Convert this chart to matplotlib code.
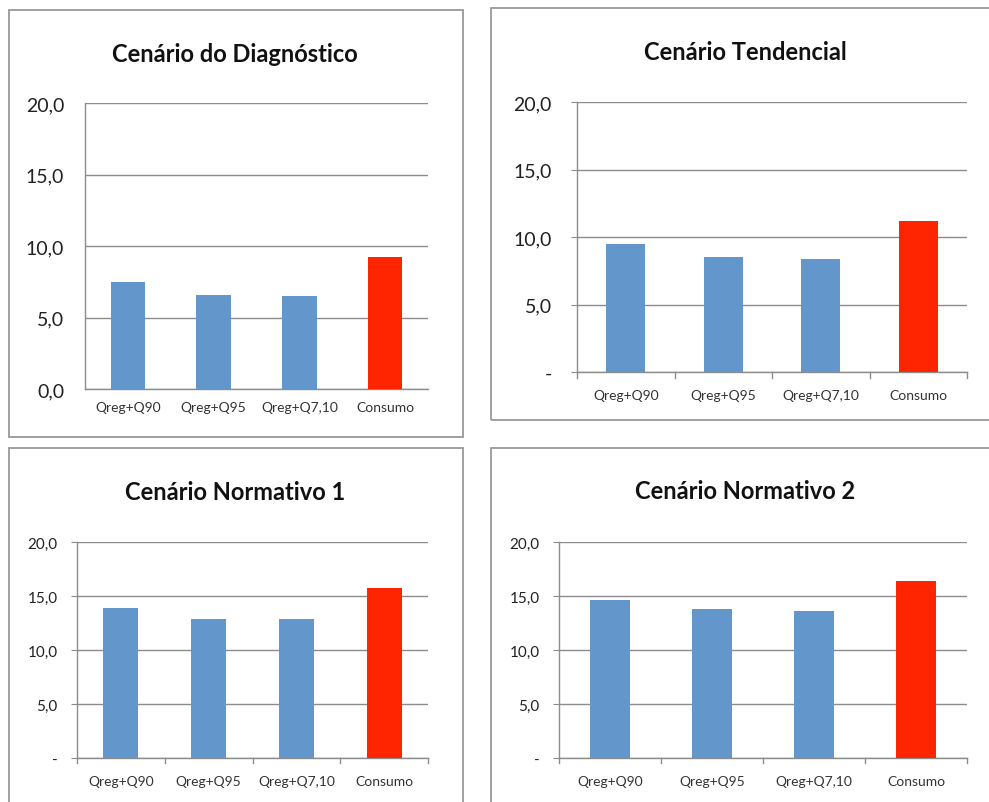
import matplotlib
matplotlib.use("Agg")
import matplotlib.pyplot as plt
from matplotlib.patches import Rectangle

plt.rcParams['font.family'] = ['Lato', 'DejaVu Sans']

categories = ["Qreg+Q90", "Qreg+Q95", "Qreg+Q7,10", "Consumo"]
titles = ["Cenário do Diagnóstico", "Cenário Tendencial",
          "Cenário Normativo 1", "Cenário Normativo 2"]
diagnostico = [7.5, 6.6, 6.5, 9.2]
tendencial = [9.5, 8.5, 8.4, 11.2]
normativo1 = [13.9, 12.9, 12.9, 15.7]
normativo2 = [14.6, 13.8, 13.6, 16.4]
series = [diagnostico, tendencial, normativo1, normativo2]
yticks = [0, 5, 10, 15, 20]
ytick_labels_first = ["0,0", "5,0", "10,0", "15,0", "20,0"]
ytick_labels_other = ["-", "5,0", "10,0", "15,0", "20,0"]

BLUE = "#6396ca"
RED = "#ff2500"
GRID = "#8c8c8c"
W, H = 989, 803

fig = plt.figure(figsize=(W / 100, H / 100), dpi=100)

# panel borders (pixel coords: left, top, right, bottom)
borders = [(9, 11, 463, 438), (491, 9, 995, 421), (9, 449, 463, 812), (491, 449, 995, 812)]
for (l, t, r, b) in borders:
    fig.patches.append(Rectangle((l / W, 1 - b / H), (r - l) / W, (b - t) / H,
                                 transform=fig.transFigure, fill=False,
                                 edgecolor="#999999", linewidth=1.3))

# axes positions (pixel coords: left, top, right, bottom)
axes_px = [(85, 104, 428, 390), (577, 103, 967, 373),
           (77, 543, 428, 759), (559, 543, 967, 759)]
title_y = [55, 53, 493, 492]
title_x = [235, 745, 235, 745]
ytick_fs = [14, 14, 11, 11]
ytick_pad = [15, 14, 10, 10]

for i, (l, t, r, b) in enumerate(axes_px):
    ax = fig.add_axes([l / W, 1 - b / H, (r - l) / W, (b - t) / H])
    colors = [BLUE, BLUE, BLUE, RED]
    x = range(len(categories))
    ax.bar(x, series[i], width=0.4, color=colors, zorder=3)
    ax.set_xlim(-0.5, len(categories) - 0.5)
    ax.set_ylim(0, 20)
    ax.set_yticks(yticks)
    ax.set_yticklabels(ytick_labels_first if i == 0 else ytick_labels_other,
                       fontsize=ytick_fs[i], color="#222222")
    ax.set_xticks(list(x))
    ax.set_xticklabels(categories, fontsize=10, color="#333333")
    ax.grid(axis="y", color=GRID, linewidth=1.0, zorder=0)
    ax.set_axisbelow(True)
    for s in ["top", "right"]:
        ax.spines[s].set_visible(False)
    for s in ["left", "bottom"]:
        ax.spines[s].set_color(GRID)
        ax.spines[s].set_linewidth(1.0)
    if i == 0:
        ax.tick_params(axis="y", length=0, pad=ytick_pad[i])
        ax.tick_params(axis="x", length=0, pad=9)
    else:
        ax.tick_params(axis="y", length=4, color=GRID, pad=ytick_pad[i])
        ax.tick_params(axis="x", length=0, pad=12)
        # category separator ticks
        for xb in [-0.5, 0.5, 1.5, 2.5, 3.5]:
            ax.plot([xb, xb], [0, -0.022], transform=ax.get_xaxis_transform(),
                    color=GRID, linewidth=1.0, clip_on=False)
    fig.text(title_x[i] / W, 1 - title_y[i] / H, titles[i], ha="center", va="center",
             fontsize=17, fontweight="bold", color="#111111")

fig.savefig("out.png", dpi=100)
